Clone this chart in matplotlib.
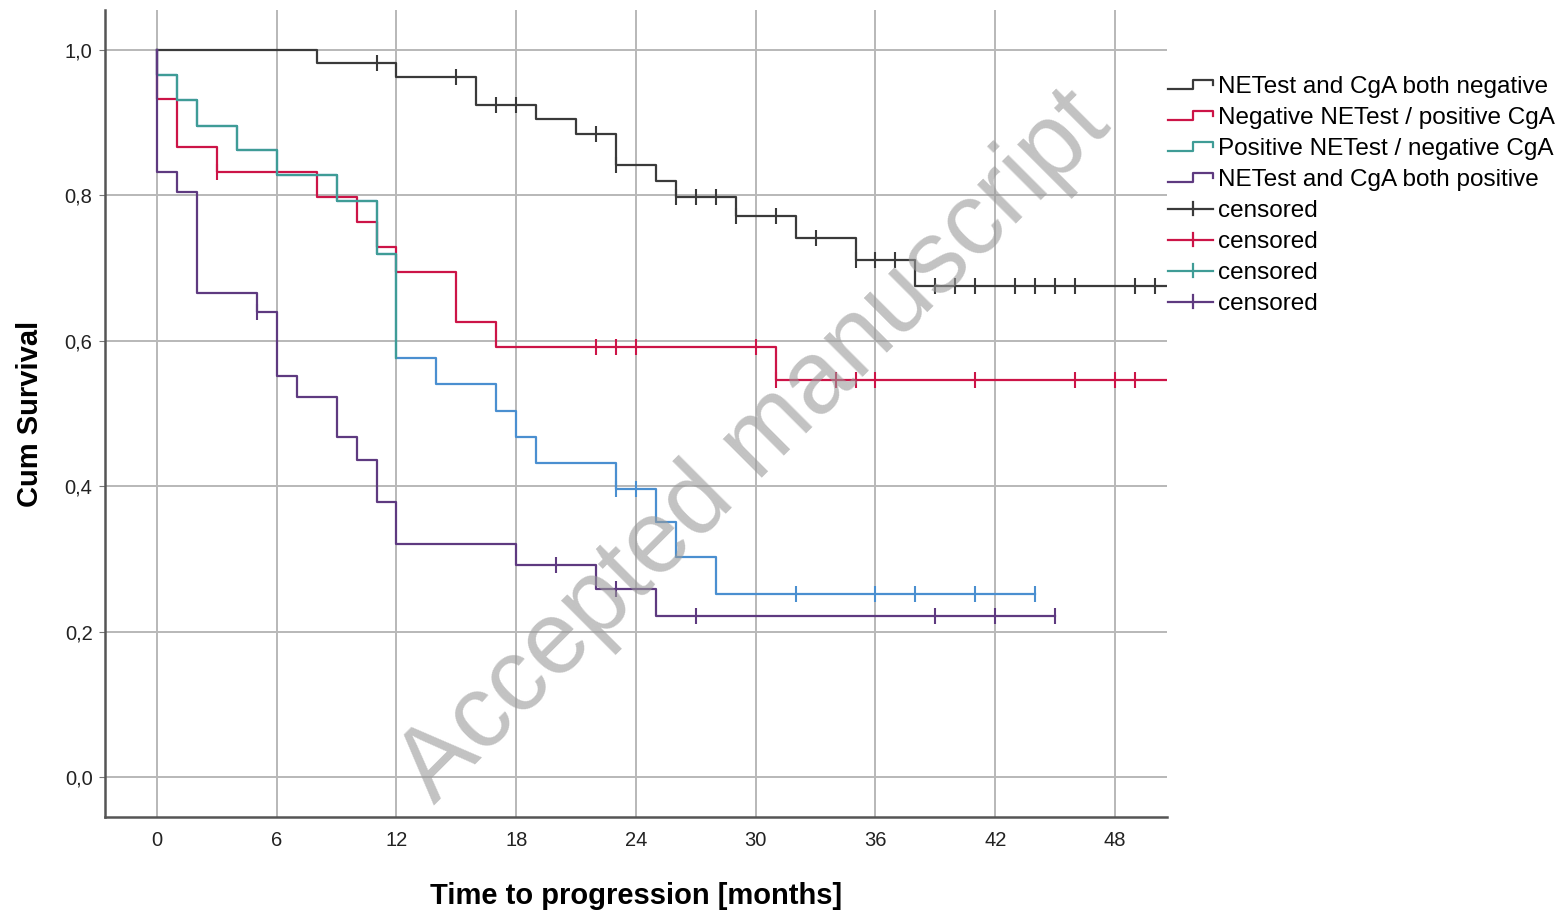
import matplotlib
matplotlib.use("Agg")
import matplotlib.pyplot as plt
import numpy as np
from matplotlib.legend_handler import HandlerBase
from matplotlib.lines import Line2D

plt.rcParams['font.family'] = ['Liberation Sans', 'DejaVu Sans']

# ---------------- data ----------------
group_labels = ["NETest and CgA both negative",
                "Negative NETest / positive CgA",
                "Positive NETest / negative CgA",
                "NETest and CgA both positive"]

# group 1: both negative
neg_times = [8, 12, 16, 19, 21, 23, 25, 26, 29, 32, 35, 38]
neg_surv = [0.982, 0.963, 0.925, 0.905, 0.884, 0.842, 0.820, 0.798, 0.772, 0.742, 0.711, 0.675]
neg_cens = [11, 15, 17, 18, 22, 23, 26, 27, 28, 29, 31, 33, 35, 36, 37, 39, 40, 41, 43, 44, 45, 46, 49, 50]
neg_end = 50.6

# group 2: negative NETest / positive CgA
npc_times = [0, 1, 3, 8, 10, 11, 12, 15, 17, 31]
npc_surv = [0.933, 0.866, 0.832, 0.798, 0.763, 0.729, 0.695, 0.626, 0.591, 0.546]
npc_cens = [3, 22, 23, 24, 30, 31, 34, 35, 36, 41, 46, 48, 49]
npc_end = 50.6

# group 3: positive NETest / negative CgA
pnc_times = [0, 1, 2, 4, 6, 9, 11, 12, 14, 17, 18, 19, 23, 25, 26, 28]
pnc_surv = [0.966, 0.931, 0.896, 0.862, 0.828, 0.792, 0.719, 0.576, 0.540, 0.504, 0.468,
            0.432, 0.396, 0.351, 0.302, 0.252]
pnc_cens = [23, 24, 32, 36, 38, 41, 44]
pnc_end = 44

# group 4: both positive
pos_times = [0, 1, 2, 5, 6, 7, 9, 10, 11, 12, 18, 22, 25]
pos_surv = [0.832, 0.805, 0.666, 0.639, 0.552, 0.523, 0.467, 0.436, 0.378, 0.320, 0.291, 0.259, 0.222]
pos_cens = [5, 20, 23, 27, 39, 42, 45]
pos_end = 45

x_ticks = [0, 6, 12, 18, 24, 30, 36, 42, 48]
y_ticks = [0.0, 0.2, 0.4, 0.6, 0.8, 1.0]
y_ticklabels = ["0,0", "0,2", "0,4", "0,6", "0,8", "1,0"]

colors = ['#3a3a3a', '#cc1447', '#3f9c96', '#5e3a80']
teal_late = '#4a8fd0'

# ---------------- helpers ----------------
def km_path(times, surv, end):
    x = [0.0] + list(times) + [end]
    y = [1.0] + list(surv) + [surv[-1]]
    return np.array(x, float), np.array(y, float)

def surv_at(times, surv, t):
    s = 1.0
    for ti, si in zip(times, surv):
        if ti <= t:
            s = si
    return s

fig = plt.figure(figsize=(15.62, 9.15), dpi=100)
ax = fig.add_axes([105/1562, 1-817/915, (1167-105)/1562, (817-10)/915])

groups = [(neg_times, neg_surv, neg_cens, neg_end),
          (npc_times, npc_surv, npc_cens, npc_end),
          (pnc_times, pnc_surv, pnc_cens, pnc_end),
          (pos_times, pos_surv, pos_cens, pos_end)]

curve_handles = []
cens_handles = []
for i, (tt, ss, cc, ee) in enumerate(groups):
    x, y = km_path(tt, ss, ee)
    col = colors[i]
    if i == 2:
        ax.step(x, y, where='post', color=teal_late, lw=1.6, zorder=3)
        m = x <= 12
        ax.step(x[m], y[m], where='post', color=col, lw=1.6, zorder=3)
        ln = Line2D([], [], color=col, lw=1.6)
    else:
        ln, = ax.step(x, y, where='post', color=col, lw=1.6, zorder=3)
    curve_handles.append(ln)
    cy = [surv_at(tt, ss, c) for c in cc]
    mcol = col if i != 2 else teal_late
    ax.plot(cc, cy, ls='none', marker='|', ms=11, mew=1.5, color=mcol, zorder=4)
    cens_handles.append(Line2D([], [], color=col, lw=1.6))

ax.set_xlim(-(157-105)/19.958, (1167-157)/19.958)
ax.set_ylim(-(817-777)/727, (777-10)/727)
ax.set_xticks(x_ticks)
ax.set_xticklabels([str(v) for v in x_ticks])
ax.set_yticks(y_ticks)
ax.set_yticklabels(y_ticklabels)
ax.grid(True, color='#b8b8b8', lw=1.4, zorder=1)
ax.set_axisbelow(True)
for s in ['top', 'right']:
    ax.spines[s].set_visible(False)
for s in ['left', 'bottom']:
    ax.spines[s].set_color('#555555')
    ax.spines[s].set_linewidth(1.8)
ax.tick_params(axis='y', length=4, color='#777777', labelsize=14.5, pad=5, labelcolor='#222222')
ax.tick_params(axis='x', length=0, labelsize=14.5, pad=10, labelcolor='#222222')
ax.set_xlabel("Time to progression [months]", fontsize=21, fontweight='bold', labelpad=23)
ax.set_ylabel("Cum Survival", fontsize=21, fontweight='bold', labelpad=15)

# ---------------- legend ----------------
class HandlerKM(HandlerBase):
    def create_artists(self, legend, orig_handle, xdescent, ydescent, width, height, fontsize, trans):
        x0 = -xdescent
        c = -ydescent + height / 2
        xs = [x0, x0 + 0.55 * width, x0 + 0.55 * width, x0 + width, x0 + width]
        ys = [c - 0.28 * height, c - 0.28 * height, c + 0.27 * height, c + 0.27 * height, c]
        return [Line2D(xs, ys, color=orig_handle.get_color(), lw=1.6, transform=trans)]

class HandlerCens(HandlerBase):
    def create_artists(self, legend, orig_handle, xdescent, ydescent, width, height, fontsize, trans):
        x0 = -xdescent
        c = -ydescent + height / 2
        l1 = Line2D([x0, x0 + width], [c, c], color=orig_handle.get_color(), lw=1.6, transform=trans)
        l2 = Line2D([x0 + 0.55 * width] * 2, [c - 0.38 * height, c + 0.38 * height],
                    color=orig_handle.get_color(), lw=1.6, transform=trans)
        return [l1, l2]

hmap = {h: HandlerKM() for h in curve_handles}
hmap.update({h: HandlerCens() for h in cens_handles})
ax.legend(curve_handles + cens_handles, group_labels + ["censored"] * 4,
          handler_map=hmap, loc='upper left',
          bbox_to_anchor=(1168/1562, 1 - 76/915), bbox_transform=fig.transFigure,
          frameon=False, fontsize=17.5, handlelength=1.85, handletextpad=0.2,
          labelspacing=0.37, borderpad=0, borderaxespad=0)

# watermark
fig.text(755/1562, 1 - 448/915, "Accepted manuscript", rotation=45, fontsize=74,
         color='#9a9a9a', alpha=0.6, ha='center', va='center', rotation_mode='anchor')

fig.savefig("out.png", dpi=100, facecolor='white')
